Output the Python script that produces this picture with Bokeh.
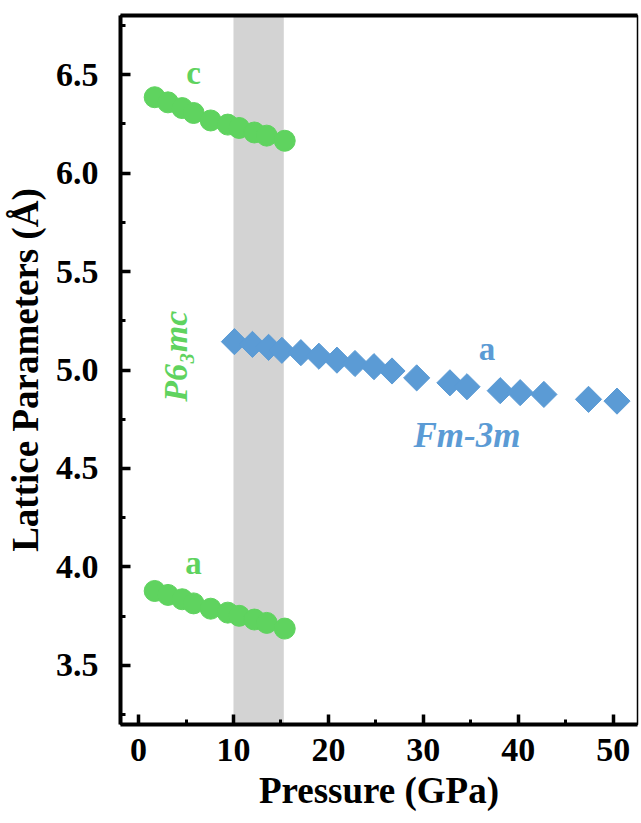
from bokeh.plotting import figure
from bokeh.models import (Label, BoxAnnotation, LinearAxis, SingleIntervalTicker,
                          NumeralTickFormatter, Range1d, FixedTicker)
from bokeh.embed import file_html
from bokeh.resources import INLINE

# ---- data ----
p_hex = [1.7, 3.1, 4.6, 5.8, 7.6, 9.4, 10.6, 12.2, 13.5, 15.4]
c_hex = [6.385, 6.359, 6.330, 6.305, 6.267, 6.246, 6.229, 6.206, 6.190, 6.164]
a_hex = [3.878, 3.858, 3.836, 3.815, 3.788, 3.768, 3.752, 3.733, 3.716, 3.687]

p_cub = [10.1, 12.0, 13.7, 15.1, 17.1, 19.0, 20.9, 22.8, 24.8, 26.7,
         29.3, 32.8, 34.6, 38.1, 40.2, 42.7, 47.4, 50.4]
a_cub = [5.144, 5.130, 5.115, 5.100, 5.088, 5.070, 5.050, 5.033, 5.017, 4.995,
         4.960, 4.935, 4.915, 4.895, 4.885, 4.876, 4.851, 4.842]

band = [10.0, 15.3]

GREEN = "#5FD35F"
BLUE = "#5B9BD5"
FONT = "Liberation Serif"

p = figure(width=641, height=823,
           x_range=Range1d(-1.9, 52.56), y_range=Range1d(3.2, 6.8),
           output_backend="svg", toolbar_location=None,
           min_border_left=120, min_border_right=4,
           min_border_top=15, min_border_bottom=99)

p.xgrid.visible = False
p.ygrid.visible = False
p.outline_line_color = "black"
p.outline_line_width = 1.5
p.background_fill_color = "white"
p.border_fill_color = "white"

p.xaxis.ticker = SingleIntervalTicker(interval=10, num_minor_ticks=2)
p.yaxis.ticker = SingleIntervalTicker(interval=0.5, num_minor_ticks=2)
p.yaxis.formatter = NumeralTickFormatter(format="0.0")

for ax in (p.xaxis[0], p.yaxis[0]):
    ax.axis_line_width = 4
    ax.axis_line_color = "black"
    ax.major_tick_in = 10
    ax.major_tick_out = 0
    ax.minor_tick_in = 5
    ax.minor_tick_out = 0
    ax.major_tick_line_width = 3.5
    ax.minor_tick_line_width = 3
    ax.major_tick_line_color = "black"
    ax.minor_tick_line_color = "black"
    ax.major_label_text_font = FONT
    ax.major_label_text_font_style = "bold"
    ax.major_label_text_font_size = "34px"
    ax.major_label_text_color = "black"
    ax.axis_label_text_font = FONT
    ax.axis_label_text_font_style = "bold"
    ax.axis_label_text_font_size = "37px"
    ax.axis_label_text_color = "black"

p.xaxis.axis_label = "Pressure (GPa)"
p.yaxis.axis_label = "Lattice Parameters (Å)"
p.xaxis.major_label_standoff = 14
p.xaxis.axis_label_standoff = 6
p.yaxis.major_label_standoff = 22
p.yaxis.axis_label_standoff = 7

top = LinearAxis(ticker=FixedTicker(ticks=[]), axis_line_width=4,
                 major_tick_in=0, major_tick_out=0, minor_tick_in=0, minor_tick_out=0,
                 major_label_text_font_size="0px")
p.add_layout(top, "above")

# transition band
p.add_layout(BoxAnnotation(left=band[0], right=band[1], fill_color="#D3D3D3",
                           fill_alpha=1.0, line_alpha=0, level="underlay"))

# data
p.scatter(p_hex, c_hex, marker="circle", size=21, fill_color=GREEN, line_color=GREEN)
p.scatter(p_hex, a_hex, marker="circle", size=21, fill_color=GREEN, line_color=GREEN)
p.scatter(p_cub, a_cub, marker="square", angle=0.785398, size=18.5,
          fill_color=BLUE, line_color=BLUE)

# text labels
def lab(x, y, t, color, size, style="bold", angle=0.0):
    p.add_layout(Label(x=x, y=y, text=t, text_color=color, text_font=FONT,
                       text_font_style=style, text_font_size=size,
                       text_align="center", text_baseline="alphabetic", angle=angle))

lab(5.8, 6.51, "c", GREEN, "33px")
lab(5.8, 4.02, "a", GREEN, "33px")
lab(36.7, 5.105, "a", BLUE, "33px")
lab(34.6, 4.665, "Fm-3m", BLUE, "35px", style="bold italic")
lab(3.9, 5.07, "P6\u2083mc", GREEN, "34px", style="bold italic", angle=1.5708)

open("out.html", "w").write(file_html(p, INLINE))
